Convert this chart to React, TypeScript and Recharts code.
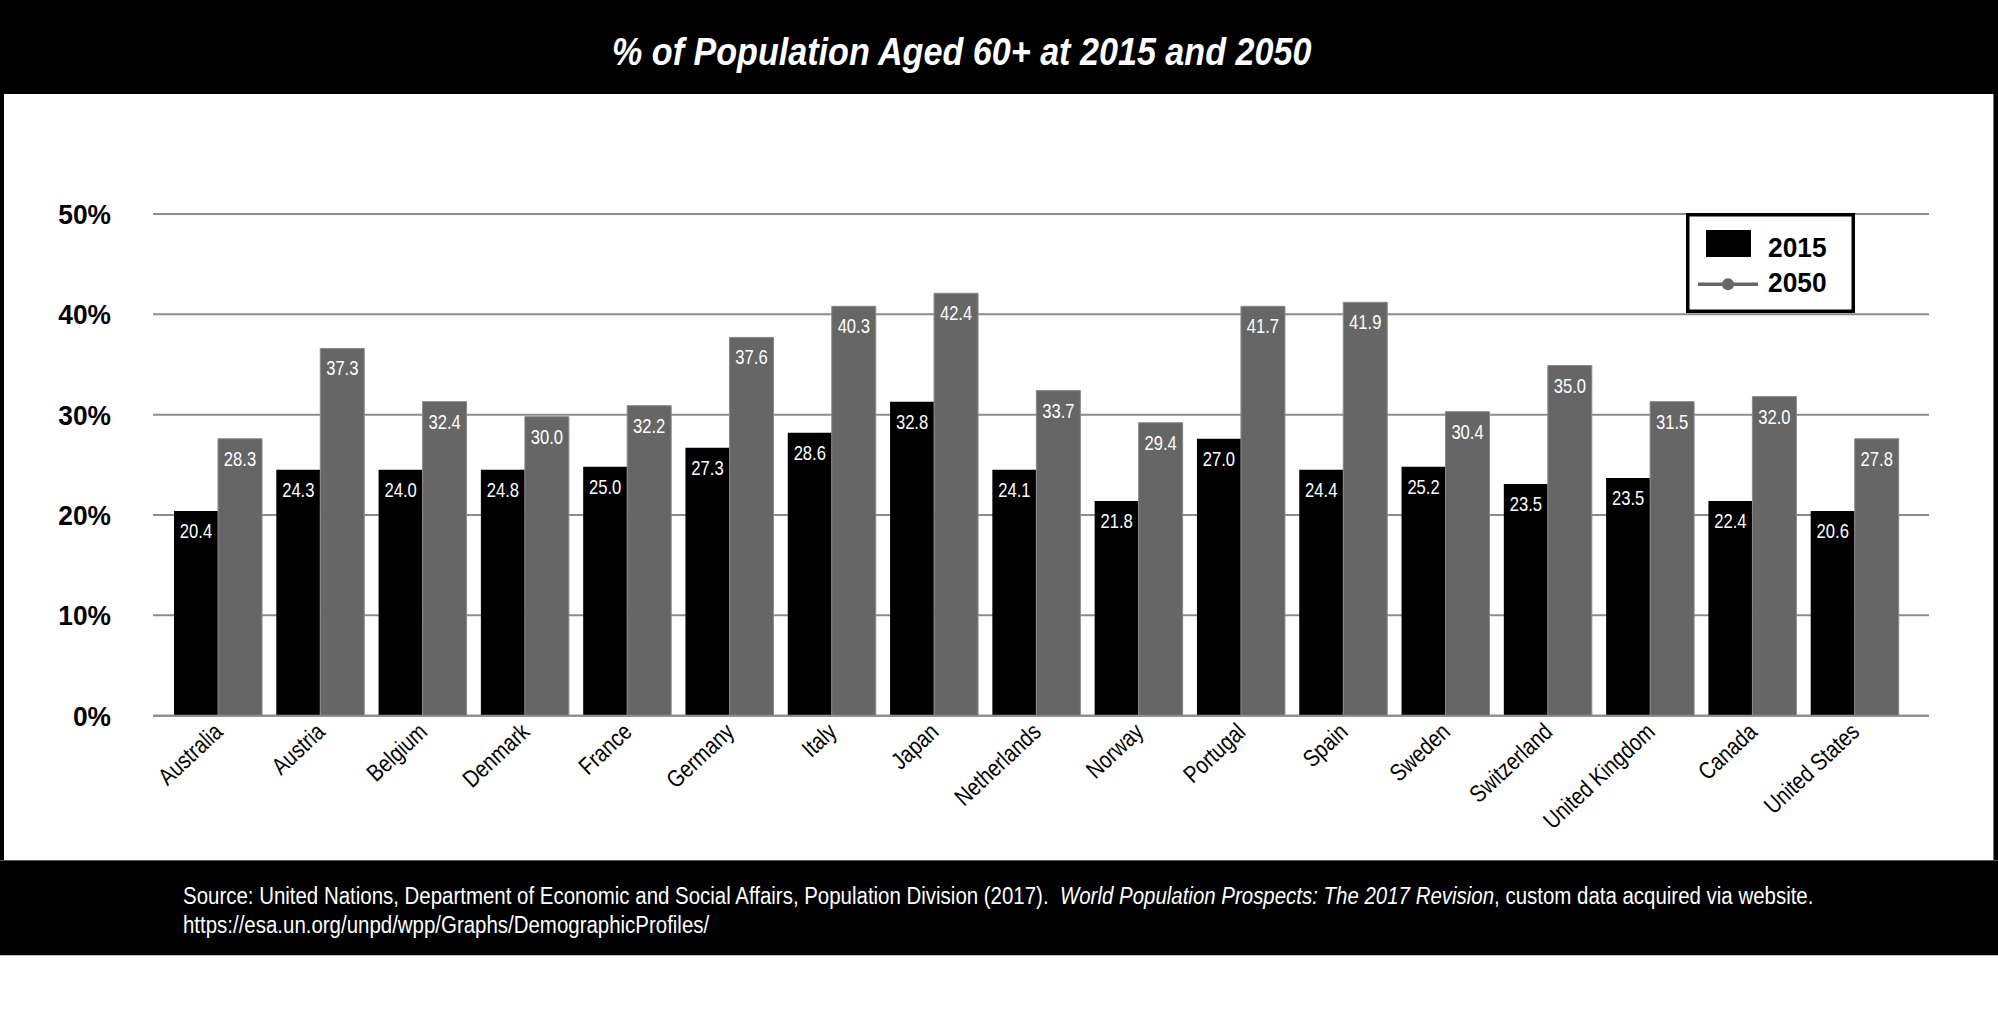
import React from 'react';
import { BarChart, Bar, XAxis, YAxis, CartesianGrid, LabelList, Legend } from 'recharts';

const countries = ['Australia', 'Austria', 'Belgium', 'Denmark', 'France', 'Germany', 'Italy', 'Japan', 'Netherlands', 'Norway', 'Portugal', 'Spain', 'Sweden', 'Switzerland', 'United Kingdom', 'Canada', 'United States'];
const bars2015 = [20.4, 24.5, 24.5, 24.5, 24.8, 26.7, 28.2, 31.3, 24.5, 21.4, 27.6, 24.5, 24.8, 23.1, 23.7, 21.4, 20.4];
const bars2050 = [27.6, 36.6, 31.3, 29.8, 30.9, 37.7, 40.8, 42.1, 32.4, 29.2, 40.8, 41.2, 30.3, 34.9, 31.3, 31.8, 27.6];
const labels2015 = ['20.4', '24.3', '24.0', '24.8', '25.0', '27.3', '28.6', '32.8', '24.1', '21.8', '27.0', '24.4', '25.2', '23.5', '23.5', '22.4', '20.6'];
const labels2050 = ['28.3', '37.3', '32.4', '30.0', '32.2', '37.6', '40.3', '42.4', '33.7', '29.4', '41.7', '41.9', '30.4', '35.0', '31.5', '32.0', '27.8'];
const yTicks = [0, 10, 20, 30, 40, 50];
const seriesNames = ['2015', '2050'];

const TITLE = '% of Population Aged 60+ at 2015 and 2050';
const SOURCE_A = 'Source: United Nations, Department of Economic and Social Affairs, Population Division (2017).\u00a0\u00a0';
const SOURCE_B = 'World Population Prospects: The 2017 Revision';
const SOURCE_C = ', custom data acquired via website.';
const SOURCE_URL = 'https://esa.un.org/unpd/wpp/Graphs/DemographicProfiles/';

const data = countries.map((name, i) => ({
  name,
  v2015: bars2015[i],
  v2050: bars2050[i],
  l2015: labels2015[i],
  l2050: labels2050[i],
}));

const FONT = "'Liberation Sans', Arial, sans-serif";
const GRAY = '#666666';
const GRID = '#8c8c8c';
const S_REG = 0.83;
const S_BOLD = 0.94;

const SText = ({ x, y, s, rotate = 0, children, ...rest }: any) => (
  <text transform={`translate(${x} ${y}) rotate(${rotate}) scale(${s} 1)`} x={0} y={0} fontFamily={FONT} {...rest}>
    {children}
  </text>
);

const XTick = (props: any) => {
  const { x, y, payload } = props;
  return (
    <SText x={x + 6} y={y + 18} rotate={-43} s={S_REG} textAnchor="end" fontSize={24} fill="#000">
      {payload.value}
    </SText>
  );
};

const YTick = (props: any) => {
  const { x, y, payload } = props;
  return (
    <SText x={x} y={y + 10} s={S_BOLD} textAnchor="end" fontSize={28} fontWeight="bold" fill="#000">
      {`${payload.value}%`}
    </SText>
  );
};

const BarLabel = (p: any) => {
  const vb = p.viewBox ?? {};
  const bx = vb.x ?? p.x;
  const by = vb.y ?? p.y;
  const bw = vb.width ?? p.width;
  return (
    <SText x={bx + bw / 2} y={by + 27} s={S_REG} textAnchor="middle" fontSize={20} fill="#fff">
      {p.value}
    </SText>
  );
};

const LegendBox = () => (
  <svg width={169} height={100} style={{ display: 'block' }}>
    <rect x={1.75} y={1.75} width={165.5} height={96.5} fill="#fff" stroke="#000" strokeWidth={3.5} />
    <rect x={20} y={17} width={45} height={27} fill="#000" />
    <SText x={82} y={43.7} s={S_BOLD} fontWeight="bold" fontSize={28} fill="#000">{seriesNames[0]}</SText>
    <line x1={12} x2={72} y1={71.3} y2={71.3} stroke={GRAY} strokeWidth={3.5} />
    <circle cx={42} cy={71.3} r={6} fill={GRAY} />
    <SText x={82} y={79.3} s={S_BOLD} fontWeight="bold" fontSize={28} fill="#000">{seriesNames[1]}</SText>
  </svg>
);

export default function App() {
  return (
    <div style={{ position: 'absolute', left: 0, top: 0, width: 1998, height: 1031, background: '#fff', overflow: 'hidden' }}>
      <style>{'body{margin:0}'}</style>
      {/* header */}
      <div style={{ position: 'absolute', left: 0, top: 0, width: 1998, height: 94, background: '#000' }} />
      {/* side borders */}
      <div style={{ position: 'absolute', left: 0, top: 94, width: 4, height: 767, background: '#000' }} />
      <div style={{ position: 'absolute', left: 1993, top: 94, width: 1, height: 767, background: '#777' }} />
      <div style={{ position: 'absolute', left: 1994, top: 94, width: 4, height: 767, background: '#000' }} />
      {/* footer */}
      <div style={{ position: 'absolute', left: 0, top: 860, width: 1998, height: 1, background: '#555' }} />
      <div style={{ position: 'absolute', left: 0, top: 861, width: 1998, height: 94, background: '#000' }} />
      <div style={{ position: 'absolute', left: 0, top: 955, width: 1998, height: 1, background: '#bbb' }} />
      <div
        style={{
          position: 'absolute', left: 0, top: 32, width: 1924, textAlign: 'center', color: '#fff',
          fontFamily: FONT, fontWeight: 'bold', fontStyle: 'italic', fontSize: 39, lineHeight: 1, whiteSpace: 'nowrap',
        }}
      >
        <span style={{ display: 'inline-block', transform: 'scaleX(0.875)' }}>{TITLE}</span>
      </div>
      <div
        style={{
          position: 'absolute', left: 183, top: 882, color: '#fff', transform: 'scaleX(0.87)', transformOrigin: 'left top',
          fontFamily: FONT, fontSize: 23.5, lineHeight: '29px', whiteSpace: 'nowrap',
        }}
      >
        <div>
          {SOURCE_A}
          <i>{SOURCE_B}</i>
          {SOURCE_C}
        </div>
        <div>{SOURCE_URL}</div>
      </div>
      <div style={{ position: 'absolute', left: 0, top: 0 }}>
        <BarChart
          width={1998}
          height={1031}
          data={data}
          margin={{ top: 214, right: 69, bottom: 255.3, left: 0 }}
          barCategoryGap={7}
          barGap={0}
        >
          <CartesianGrid vertical={false} stroke={GRID} strokeWidth={2} />
          <XAxis
            dataKey="name"
            height={60}
            padding={{ left: 14, right: 23 }}
            interval={0}
            tickLine={false}
            tickSize={0}
            tickMargin={0}
            axisLine={{ stroke: GRID, strokeWidth: 2 }}
            tick={<XTick />}
          />
          <YAxis
            width={153}
            domain={[0, 50]}
            ticks={yTicks}
            interval={0}
            axisLine={false}
            tickLine={false}
            tickSize={0}
            tickMargin={42}
            tick={<YTick />}
          />
          <Legend
            layout="vertical"
            align="center"
            verticalAlign="middle"
            wrapperStyle={{ position: 'absolute', left: 1686, top: 213, width: 169, height: 100, margin: 0, padding: 0 }}
            content={() => <LegendBox />}
          />
          <Bar dataKey="v2015" name={seriesNames[0]} fill="#000" isAnimationActive={false}>
            <LabelList dataKey="l2015" content={BarLabel} />
          </Bar>
          <Bar dataKey="v2050" name={seriesNames[1]} fill={GRAY} stroke="#8a8a8a" strokeWidth={1} isAnimationActive={false}>
            <LabelList dataKey="l2050" content={BarLabel} />
          </Bar>
        </BarChart>
      </div>
    </div>
  );
}
